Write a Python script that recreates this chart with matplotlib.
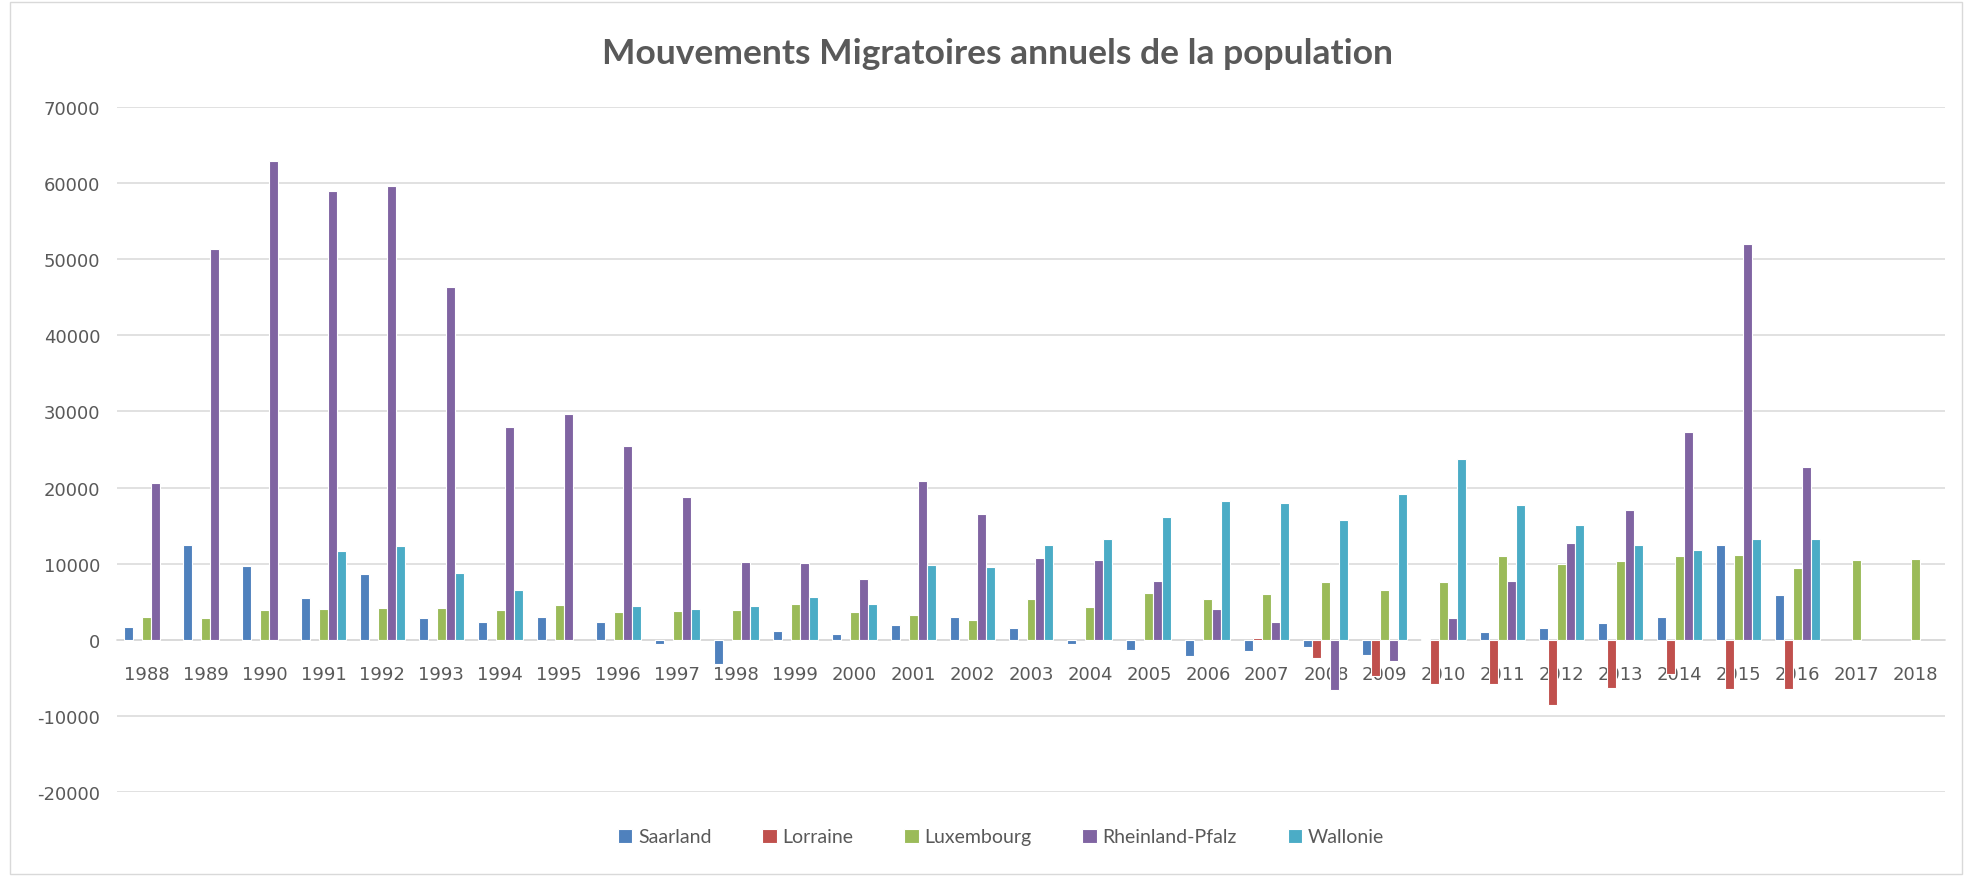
import numpy as np
import matplotlib
matplotlib.use("Agg")
import matplotlib.pyplot as plt
from matplotlib.patches import Rectangle

# Years on the x axis
years = [str(y) for y in range(1988, 2019)]

# Annual migration balance per region (nan = no data)
nan = np.nan
saarland = [1700, 12500, 9700, 5500, 8700, 2900, 2300, 3000, 2300, -600,
            -3200, 1100, 700, 1900, 3000, 1600, -600, -1400, -2100, -1500,
            -900, -2000, 100, 1000, 1550, 2250, 3050, 12400, 5900, nan, nan]
lorraine = [nan] * 19 + [200, -2400, -4800, -5750, -5750, -8550, -6350,
                         -4450, -6450, -6500, nan, nan]
luxembourg = [3050, 2850, 3900, 4100, 4150, 4150, 3900, 4550, 3650, 3800,
              3950, 4700, 3600, 3300, 2600, 5350, 4350, 6100, 5300, 5950,
              7650, 6500, 7600, 10950, 10000, 10350, 11000, 11100, 9450,
              10500, 10600]
rheinland = [20550, 51350, 62900, 58900, 59600, 46400, 27950, 29650, 25450,
             18750, 10200, 10100, 8000, 20900, 16550, 10750, 10450, 7750,
             4100, 2300, -6650, -2800, 2800, 7750, 12750, 17100, 27300,
             52050, 22750, nan, nan]
wallonie = [nan, nan, nan, 11600, 12300, 8800, 6600, nan, 4450, 4100, 4450,
            5650, 4750, 9850, 9500, 12500, 13250, 16100, 18250, 17950, 15800,
            19200, 23750, 17650, 15100, 12500, 11750, 13250, 13200, nan, nan]

series = [("Saarland", saarland, "#4F81BD"),
          ("Lorraine", lorraine, "#C0504D"),
          ("Luxembourg", luxembourg, "#9BBB59"),
          ("Rheinland-Pfalz", rheinland, "#8064A2"),
          ("Wallonie", wallonie, "#4BACC6")]

text_col = "#595959"
grid_col = "#D9D9D9"

fig = plt.figure(figsize=(19.7, 8.78), dpi=100)
ax = fig.add_axes([117 / 1970, 1 - 793 / 878, (1945 - 117) / 1970, (793 - 108) / 878])

x = np.arange(len(years))
w = 0.1525
for k, (name, vals, col) in enumerate(series):
    ax.bar(x + (k - 2) * w, np.array(vals, dtype=float), width=w, color=col,
           edgecolor="white", linewidth=0.8, label=name, zorder=3)

ax.set_xlim(-0.5, len(years) - 0.5)
ax.set_ylim(-20000, 70000)
ax.set_yticks(np.arange(-20000, 70001, 10000))
ax.set_yticklabels([str(v) for v in range(-20000, 70001, 10000)])
ax.set_xticks(x)
ax.set_xticklabels(years)
ax.yaxis.grid(True, color=grid_col, linewidth=1.1, zorder=0)
ax.set_axisbelow(True)

for s in ["top", "right", "left"]:
    ax.spines[s].set_visible(False)
ax.spines["bottom"].set_position(("data", 0))
ax.spines["bottom"].set_color(grid_col)
ax.spines["bottom"].set_linewidth(1.1)
ax.spines["bottom"].set_zorder(2)

ax.tick_params(axis="x", length=0, pad=18, labelsize=13, labelcolor=text_col)
ax.tick_params(axis="y", length=0, pad=12, labelsize=13, labelcolor=text_col)

fig.text(998 / 1970, 1 - 54 / 878, "Mouvements Migratoires annuels de la population",
         ha="center", va="center", fontsize=25.5, fontweight="bold",
         color=text_col, family="Lato")

leg = fig.legend(loc="center", bbox_to_anchor=(1001 / 1970, 1 - 838 / 878),
                 ncol=5, frameon=False, handlelength=0.75, handleheight=0.75,
                 handletextpad=0.3, columnspacing=2.6,
                 prop={"family": "Lato", "size": 14})
for t in leg.get_texts():
    t.set_color(text_col)

# light chart frame
fig.patches.append(Rectangle((10 / 1970, 3 / 878), 1952 / 1970, 872 / 878,
                             transform=fig.transFigure, fill=False,
                             edgecolor=grid_col, linewidth=1.0))

fig.savefig("out.png", dpi=100)
